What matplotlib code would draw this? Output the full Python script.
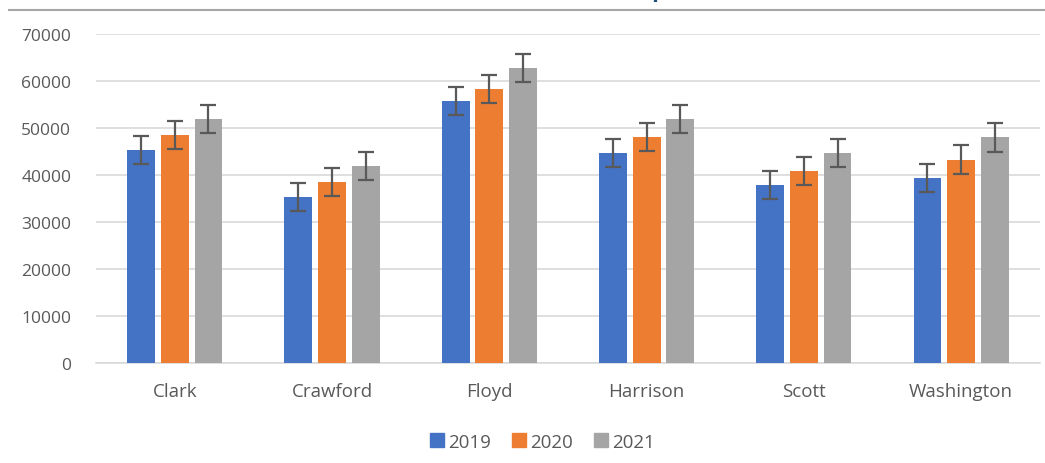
import matplotlib
matplotlib.use("Agg")
import matplotlib.pyplot as plt
import numpy as np
from matplotlib.lines import Line2D

# Data
counties = ["Clark", "Crawford", "Floyd", "Harrison", "Scott", "Washington"]
years = ["2019", "2020", "2021"]
values_2019 = [45300, 35300, 55700, 44700, 37900, 39400]
values_2020 = [48500, 38500, 58300, 48100, 40900, 43300]
values_2021 = [51900, 41900, 62700, 51900, 44700, 48000]
error = 3000

colors = ["#4472C4", "#ED7D31", "#A5A5A5"]
text_color = "#595959"

plt.rcParams["font.family"] = ["Open Sans", "DejaVu Sans"]

fig = plt.figure(figsize=(10.45, 4.64), dpi=100)
ax = fig.add_axes([0.092, 0.2155, 0.903, 0.709])

x = np.arange(len(counties))
width = 0.177
step = 0.214
series = [values_2019, values_2020, values_2021]
for i, (vals, c) in enumerate(zip(series, colors)):
    ax.bar(x + (i - 1) * step, vals, width, color=c, zorder=3,
           yerr=error, error_kw=dict(ecolor="#595959", elinewidth=1.6,
                                     capsize=5.5, capthick=1.6, zorder=4))

ax.set_xlim(-0.5, len(counties) - 0.5)
ax.set_ylim(0, 70000)
ax.set_yticks(range(0, 70001, 10000))
ax.set_xticks(x)
ax.set_xticklabels(counties)
ax.grid(True, axis="y", color="#D9D9D9", linewidth=1.2, zorder=0)
ax.set_axisbelow(True)
for side in ["top", "right", "left"]:
    ax.spines[side].set_visible(False)
ax.spines["bottom"].set_color("#D9D9D9")
ax.spines["bottom"].set_linewidth(1.2)
ax.tick_params(axis="both", length=0, colors=text_color)
ax.tick_params(axis="y", labelsize=12.5, pad=18)
ax.tick_params(axis="x", labelsize=13.5, pad=14)

handles = [Line2D([0], [0], marker="s", color="none", markerfacecolor=c,
                  markeredgecolor=c, markersize=10) for c in colors]
fig.legend(handles, years, loc="center", bbox_to_anchor=(0.518, 0.046),
           ncol=3, frameon=False, fontsize=13.5, labelcolor=text_color,
           handletextpad=0.1, columnspacing=1.0, handlelength=1.0)

# title sits mostly above the visible area in the reference
fig.text(0.52, 0.995, "Personal Income Per Capita", ha="center", va="bottom",
         fontsize=16, fontweight="bold", color="#1F4E79")
fig.add_artist(Line2D([0.009, 1.0], [0.976, 0.976], color="#A6A6A6",
                      linewidth=1.5, transform=fig.transFigure))

fig.savefig("out.png", dpi=100, facecolor="white")
